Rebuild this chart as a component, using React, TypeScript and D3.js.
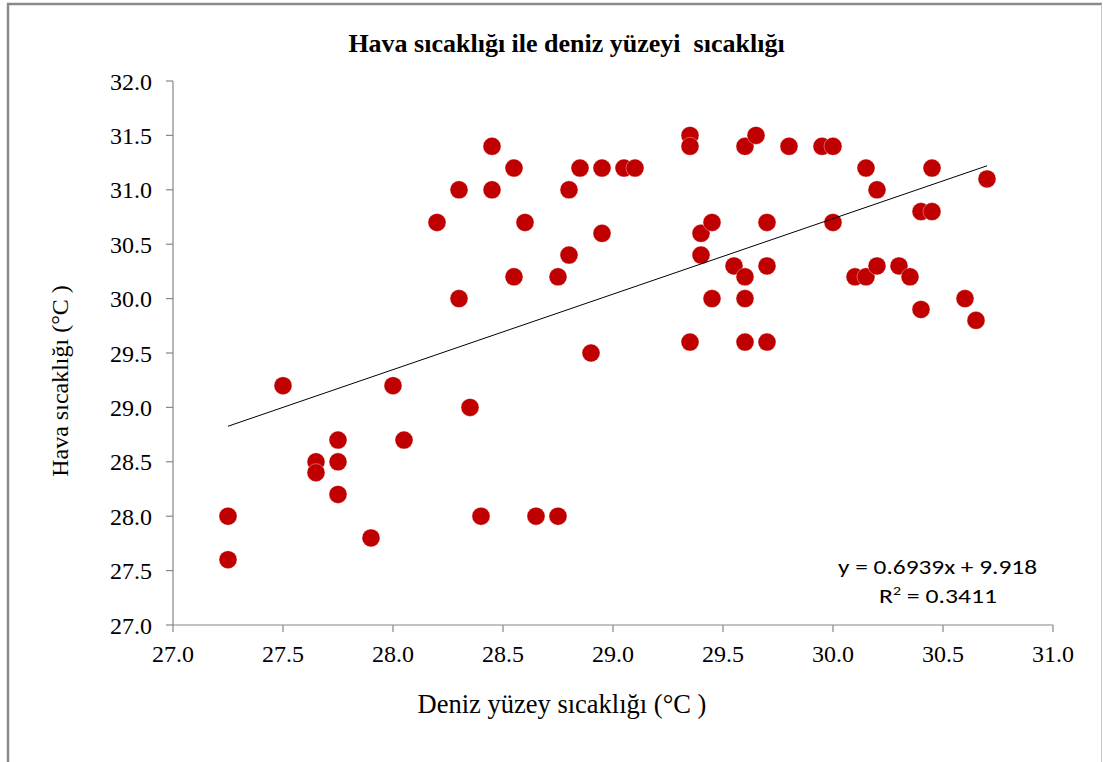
import React from "react";
import * as d3 from "d3";

const seaTemp = [
  27.25, 27.25, 27.5, 27.65, 27.65, 27.75, 27.75, 27.75, 27.9, 28.0, 28.05, 28.2, 28.3, 28.3, 28.35, 28.4,
  28.45, 28.45, 28.55, 28.55, 28.6, 28.65, 28.75, 28.75, 28.8, 28.8, 28.85, 28.9, 28.95, 28.95, 29.05, 29.1,
  29.35, 29.35, 29.35, 29.4, 29.4, 29.45, 29.45, 29.55, 29.6, 29.6, 29.6, 29.6, 29.65, 29.7, 29.7, 29.7,
  29.8, 29.95, 30.0, 30.0, 30.1, 30.15, 30.15, 30.2, 30.2, 30.3, 30.35, 30.4, 30.4, 30.45, 30.45, 30.6,
  30.65, 30.7,
];
const airTemp = [
  28.0, 27.6, 29.2, 28.5, 28.4, 28.7, 28.5, 28.2, 27.8, 29.2, 28.7, 30.7, 31.0, 30.0, 29.0, 28.0,
  31.4, 31.0, 31.2, 30.2, 30.7, 28.0, 30.2, 28.0, 31.0, 30.4, 31.2, 29.5, 31.2, 30.6, 31.2, 31.2,
  31.5, 31.4, 29.6, 30.6, 30.4, 30.7, 30.0, 30.3, 31.4, 30.2, 30.0, 29.6, 31.5, 30.7, 30.3, 29.6,
  31.4, 31.4, 31.4, 30.7, 30.2, 31.2, 30.2, 31.0, 30.3, 30.3, 30.2, 30.8, 29.9, 31.2, 30.8, 30.0,
  29.8, 31.1,
];
const xTicks = [27.0, 27.5, 28.0, 28.5, 29.0, 29.5, 30.0, 30.5, 31.0];
const yTicks = [27.0, 27.5, 28.0, 28.5, 29.0, 29.5, 30.0, 30.5, 31.0, 31.5, 32.0];
const slope = 0.6939;
const intercept = 9.918;
const trendRange = [27.25, 30.7];
const titleText = "Hava sıcaklığı ile deniz yüzeyi  sıcaklığı";
const xTitle = "Deniz yüzey sıcaklığı (°C )";
const yTitle = "Hava sıcaklığı (°C )";
const eqText = "y = 0.6939x + 9.918";
const r2Base = "R";
const r2Rest = " = 0.3411";

export default function App() {
  const W = 1103;
  const H = 762;
  const x = d3.scaleLinear().domain([27, 31]).range([173, 1053]);
  const y = d3.scaleLinear().domain([27, 32]).range([625, 81]);
  const axisColor = "#868686";
  const serif = "'Liberation Serif', 'Times New Roman', serif";
  const sans = "Carlito, Lato, 'Liberation Sans', sans-serif";
  const pts = seaTemp.map((v, i) => [v, airTemp[i]]);
  const line = d3.line<number>().x((d) => x(d)).y((d) => y(slope * d + intercept));

  return (
    <svg
      width={W}
      height={H}
      style={{ position: "absolute", left: 0, top: 0, display: "block", background: "#fff" }}
    >
      <rect x={0} y={0} width={W} height={H} fill="#fff" />
      {/* frame */}
      <line x1={8} y1={3} x2={8} y2={H} stroke="#8a8a8a" strokeWidth={2.5} />
      <line x1={7} y1={4} x2={1102} y2={4} stroke="#8a8a8a" strokeWidth={2.5} />
      <line x1={1101.5} y1={4} x2={1101.5} y2={H} stroke="#c8c8c8" strokeWidth={1} />

      <text x={566.5} y={52} textAnchor="middle" fontFamily={serif} fontWeight="bold" fontSize={26} fill="#000" style={{ whiteSpace: "pre" }}>
        {titleText}
      </text>

      {/* axes */}
      <line x1={x(27)} y1={y(32)} x2={x(27)} y2={y(27)} stroke={axisColor} strokeWidth={1.2} />
      <line x1={x(27)} y1={y(27)} x2={x(31)} y2={y(27)} stroke={axisColor} strokeWidth={1.2} />
      {yTicks.map((t) => (
        <g key={"y" + t}>
          <line x1={x(27) - 7} x2={x(27)} y1={y(t)} y2={y(t)} stroke={axisColor} strokeWidth={1.2} />
          <text x={152} y={y(t) + 8.5} textAnchor="end" fontFamily={serif} fontSize={24} fill="#000">
            {t.toFixed(1)}
          </text>
        </g>
      ))}
      {xTicks.map((t) => (
        <g key={"x" + t}>
          <line x1={x(t)} x2={x(t)} y1={y(27)} y2={y(27) + 7} stroke={axisColor} strokeWidth={1.2} />
          <text x={x(t)} y={662} textAnchor="middle" fontFamily={serif} fontSize={24} fill="#000">
            {t.toFixed(1)}
          </text>
        </g>
      ))}

      {/* points */}
      {pts.map((p, i) => (
        <circle key={i} cx={x(p[0])} cy={y(p[1])} r={9} fill="#C00000" stroke="#fff" strokeWidth={0.6} strokeOpacity={0.6} />
      ))}

      {/* trendline */}
      <path d={line(trendRange) || ""} fill="none" stroke="#000" strokeWidth={1} />

      <text x={838} y={574} fontFamily={sans} fontSize={21} fill="#000" textLength={199} lengthAdjust="spacingAndGlyphs">
        {eqText}
      </text>
      <text x={879} y={603} fontFamily={sans} fontSize={21} fill="#000" textLength={118} lengthAdjust="spacingAndGlyphs">
        {r2Base}
        <tspan fontSize={13} dy={-8}>2</tspan>
        <tspan dy={8}>{r2Rest}</tspan>
      </text>

      <text x={562} y={713} textAnchor="middle" fontFamily={serif} fontSize={26.5} fill="#000">
        {xTitle}
      </text>
      <text
        transform={`translate(68, 381) rotate(-90)`}
        textAnchor="middle"
        fontFamily={serif}
        fontSize={24}
        fill="#000"
      >
        {yTitle}
      </text>
    </svg>
  );
}
